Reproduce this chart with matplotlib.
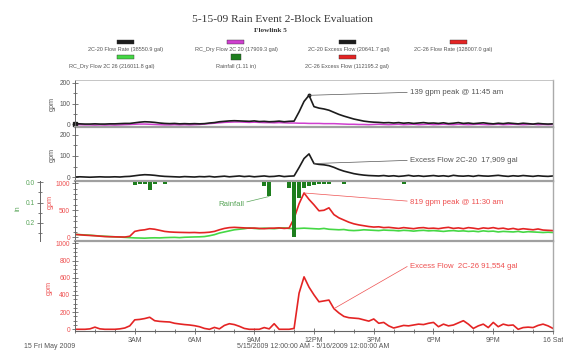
import numpy as np
import matplotlib.pyplot as plt
from matplotlib.patches import Rectangle
from matplotlib.ticker import MultipleLocator

plt.rcParams['font.family'] = ['Liberation Sans', 'DejaVu Sans']

# CONFIG ===============================================================================================================

W, H, DPI = 563, 352, 100

BLACK = "#1c1c1c"
MAGENTA = "#cf3fcf"
RED = "#e42424"
LIME = "#45d845"
RAIN_GREEN = "#1e7e1e"
RED_TEXT = "#ee5050"
GREEN_TEXT = "#5aa65a"
GRAY_TEXT = "#555555"

# DATA =================================================================================================================

# 15-minute samples, 5/15/2009 00:00 -> 5/16/2009 00:00 (hours)
HOURS = np.arange(97) * 0.25

FLOW_2C20 = [
    4, 3, 2, 2, 3, 2, 2, 3,
    3, 4, 5, 5, 8, 11, 13, 12,
    10, 7, 5, 4, 5, 3, 4, 3,
    4, 3, 4, 7, 9, 13, 15, 17,
    18, 17, 16, 15, 17, 14, 15, 13,
    14, 16, 13, 15, 16, 60, 110, 139,
    85, 78, 74, 68, 58, 48, 40, 33,
    26, 21, 16, 13, 11, 10, 8, 9,
    7, 9, 6, 8, 5, 7, 9, 6,
    7, 5, 8, 4, 6, 9, 5, 7,
    4, 6, 8, 5, 3, 6, 4, 7,
    5, 3, 6, 4, 2, 5, 3, 2,
    3,
]

DRY_2C20 = [
    0, -1, -2, -2, -3, -2, -3, -2,
    -3, -2, -1, 0, 1, 2, 2, 1,
    0, -1, -2, -2, -1, -2, -1, -2,
    -1, 0, 2, 4, 6, 8, 10, 11,
    12, 12, 11, 10, 11, 10, 9, 9,
    8, 9, 8, 7, 7, 6, 6, 5,
    5, 5, 4, 4, 4, 3, 2, 1,
    1, 0, 0, -1, 0, 1, 0, -1,
    0, 1, -1, 0, 1, -1, 0, 1,
    -1, 0, 1, 0, -1, 1, 0, -1,
    0, 1, 0, -1, 0, 1, -1, 0,
    1, 0, -1, 0, 1, -1, 0, -1,
    0,
]

EXCESS_2C20 = [
    0, 1, 0, -1, 0, 1, 0, 0,
    1, 0, 2, 3, 6, 9, 11, 10,
    8, 5, 3, 2, 1, 0, 2, 1,
    0, 2, 1, 3, 0, 2, 4, 1,
    3, 5, 2, 4, 1, 3, 5, 2,
    3, 6, 2, 4, 5, 45, 88, 110,
    64, 60, 58, 54, 46, 36, 28, 22,
    16, 12, 9, 7, 6, 5, 7, 4,
    6, 3, 5, 8, 4, 6, 3, 5,
    7, 4, 6, 3, 8, 5, 4, 6,
    3, 7, 5, 4, 6, 8, 5, 3,
    6, 4, 7, 5, 3, 6, 4, 3,
    5,
]

FLOW_2C26 = [
    55, 48, 40, 35, 30, 22, 15, 12,
    10, 8, 6, 20, 110, 130, 140, 160,
    150, 130, 110, 100, 95, 92, 90, 88,
    90, 85, 88, 95, 110, 140, 165, 180,
    185, 180, 175, 170, 172, 165, 160, 168,
    170, 175, 165, 172, 350, 620, 819, 700,
    600, 490, 500, 545, 420, 360, 320, 280,
    250, 230, 215, 200, 190, 195, 180, 185,
    175, 165, 180, 170, 160, 175, 180, 165,
    170, 160, 175, 185, 165, 175, 160, 180,
    170, 155, 175, 165, 180, 160, 170, 150,
    165, 145, 160, 150, 140, 155, 135, 130,
    125,
]

DRY_2C26 = [
    55, 50, 45, 40, 32, 25, 20, 15,
    10, 5, 0, -5, -10, -12, -15, -10,
    -8, -10, -5, -2, 0, -5, 2, 5,
    8, 10, 15, 30, 50, 80, 100, 120,
    140, 150, 160, 175, 165, 160, 170, 165,
    160, 170, 175, 165, 160, 165, 170, 165,
    160, 155, 165, 150, 145, 140, 145, 130,
    125, 130, 140, 135, 130, 125, 135, 130,
    128, 120, 130, 125, 115, 125, 130, 120,
    125, 118, 110, 120, 125, 115, 120, 110,
    115, 105, 120, 110, 115, 100, 110, 105,
    100, 110, 95, 105, 100, 95, 90, 95,
    90,
]

EXCESS_2C26 = [
    0, 0, 0, 5, 25, 5, 0, 0,
    0, 5, 15, 40, 110, 115, 125, 140,
    100, 92, 88, 85, 70, 62, 55, 50,
    42, 30, 10, 0, 22, 5, 45, 65,
    55, 35, 10, 0, 0, 0, 20, 5,
    65, 0, 0, 0, 10, 420, 610, 490,
    400, 320, 330, 340, 240, 190, 150, 135,
    130, 125, 110, 95, 120, 70, 80, 40,
    15, 30, 45, 40, 50, 60, 55, 70,
    80, 30, 60, 40, 50, 75, 100, 60,
    10, 40, 60, 20, 80, 30, 60, 45,
    50, 0, 20, 25, 20, 45, 60, 40,
    10,
]

RAIN_HOURS = [3.0, 3.25, 3.5, 3.75, 4.0, 4.5, 9.5, 9.75, 10.75, 11.0, 11.25, 11.5, 11.75, 12.0,
              12.25, 12.5, 12.75, 13.5, 16.5]
RAIN_INCHES = [0.015, 0.008, 0.008, 0.04, 0.008, 0.008, 0.02, 0.07, 0.03, 0.27, 0.08, 0.03, 0.02, 0.012,
               0.008, 0.008, 0.008, 0.008, 0.008]

X_TICKS = [3, 6, 9, 12, 15, 18, 21, 24]
X_TICK_LABELS = ["3AM", "6AM", "9AM", "12PM", "3PM", "6PM", "9PM", "16 Sat"]

LEGEND_LABELS = [
    "2C-20 Flow Rate (38550.9 gal)", "RC_Dry Flow 2C 20 (17909.3 gal)",
    "2C-20 Excess Flow (20641.7 gal)", "2C-26 Flow Rate (328007.0 gal)",
    "RC_Dry Flow 2C 26 (216011.8 gal)", "Rainfall (1.11 in)", "2C-26 Excess Flow (112195.2 gal)",
]
LEGEND_COLORS = [BLACK, MAGENTA, BLACK, RED, LIME, RAIN_GREEN, RED]


# HELPERS ==============================================================================================================

def px_rect(left, top, right, bottom):
    return [left / W, 1 - bottom / H, (right - left) / W, (bottom - top) / H]


def fx(x):
    return x / W


def fy(y):
    return 1 - y / H


def style_panel(ax, ylim, major, minor, label_color, separator=True):
    ax.set_xlim(0, 24)
    ax.set_ylim(*ylim)
    ax.yaxis.set_major_locator(MultipleLocator(major))
    ax.yaxis.set_minor_locator(MultipleLocator(minor))
    ax.tick_params(axis="y", which="both", direction="inout", color="#666666", labelcolor=label_color,
                   labelsize=4.8, pad=1.5, width=0.6)
    ax.tick_params(axis="y", which="major", length=4)
    ax.tick_params(axis="y", which="minor", length=2.4)
    ax.tick_params(axis="x", which="both", bottom=False, labelbottom=False)
    ax.spines["left"].set_color("#666666")
    ax.spines["left"].set_linewidth(0.7)
    ax.spines["right"].set_color("#aaaaaa")
    ax.spines["right"].set_linewidth(1.0)
    ax.spines["top"].set_visible(False)
    if separator:
        ax.spines["bottom"].set_color("#a0a0a0")
        ax.spines["bottom"].set_linewidth(1.6)
    ax.patch.set_alpha(0)


def annotate(ax, text, xy, text_px, color, ha="left", relpos=(0, 0.6)):
    ax.annotate(text, xy=xy, xycoords="data", xytext=(fx(text_px[0]), fy(text_px[1])),
                textcoords="figure fraction", ha=ha, va="center", fontsize=5.6, color=color,
                arrowprops=dict(arrowstyle="-", lw=0.5, color=color, relpos=relpos, shrinkA=0, shrinkB=0),
                annotation_clip=False)


# FIGURE ===============================================================================================================

fig = plt.figure(figsize=(W / DPI, H / DPI), dpi=DPI)

fig.text(fx(282), fy(20), "5-15-09 Rain Event 2-Block Evaluation", family="Liberation Serif",
         fontsize=8.2, color="#333333", ha="center", va="center")
fig.text(fx(270), fy(30), "Flowlink 5", family="Liberation Serif", fontsize=5.2, fontweight="bold",
         color="#333333", ha="center", va="center")

# legend, drawn by hand like the source software
legend_slots = [(125, 41.5, 126, 49.5), (236, 41.5, 236, 49.5), (347, 41.5, 349, 49.5), (458, 41.5, 453, 49.5),
                (125, 57.0, 112, 66.5), (236, 57.0, 236, 66.5), (347, 57.0, 347, 66.5)]
for label, color, (sx, sy, tx, ty) in zip(LEGEND_LABELS, LEGEND_COLORS, legend_slots):
    sw, sh = (10, 6) if color == RAIN_GREEN else (17, 4)
    fig.patches.append(Rectangle((fx(sx - sw / 2), fy(sy + sh / 2)), sw / W, sh / H, transform=fig.transFigure,
                                 facecolor=color, edgecolor="#333333", linewidth=0.3))
    fig.text(fx(tx), fy(ty), label, fontsize=4.0, color=GRAY_TEXT, ha="center", va="center")

# panel 1: 2C-20 flow rate and dry flow
ax1 = fig.add_axes(px_rect(75, 80, 553, 127))
ax1.plot(HOURS, DRY_2C20, color=MAGENTA, lw=1.1)
ax1.plot(HOURS, FLOW_2C20, color=BLACK, lw=1.2)
ax1.plot(HOURS[0], FLOW_2C20[0], "s", ms=3.5, color=BLACK, clip_on=False)
peak1 = int(np.argmax(FLOW_2C20))
ax1.plot(HOURS[peak1], FLOW_2C20[peak1], "o", ms=1.8, color=BLACK)
style_panel(ax1, (-12, 212), 100, 50, GRAY_TEXT)
ax1.spines["top"].set_visible(True)
ax1.spines["top"].set_color("#bbbbbb")
ax1.spines["top"].set_linewidth(0.6)
annotate(ax1, "139 gpm peak @ 11:45 am", (HOURS[peak1], FLOW_2C20[peak1]), (410, 93), GRAY_TEXT)

# panel 2: 2C-20 excess flow
ax2 = fig.add_axes(px_rect(75, 127, 553, 181))
ax2.plot(HOURS, EXCESS_2C20, color=BLACK, lw=1.2)
style_panel(ax2, (-19, 238), 100, 50, GRAY_TEXT)
annotate(ax2, "Excess Flow 2C-20  17,909 gal", (HOURS[48], EXCESS_2C20[48]), (410, 161), GRAY_TEXT)

# panel 3: 2C-26 flow rate, dry flow and rainfall
ax3 = fig.add_axes(px_rect(75, 181, 553, 241))
ax3.plot(HOURS, DRY_2C26, color=LIME, lw=1.2)
ax3.plot(HOURS, FLOW_2C26, color=RED, lw=1.2)
style_panel(ax3, (-67, 1040), 500, 100, RED_TEXT)
peak3 = int(np.argmax(FLOW_2C26))
annotate(ax3, "819 gpm peak @ 11:30 am", (HOURS[peak3], FLOW_2C26[peak3]), (410, 202), RED_TEXT)

rain_ax = ax3.twinx()
rain_ax.bar(RAIN_HOURS, RAIN_INCHES, width=0.2, color=RAIN_GREEN, align="center")
rain_ax.set_xlim(0, 24)
rain_ax.set_ylim(0.29, -0.0064)
rain_ax.yaxis.tick_left()
rain_ax.yaxis.set_label_position("left")
rain_ax.spines["left"].set_position(("axes", -35 / 478))
rain_ax.spines["left"].set_visible(True)
rain_ax.spines["left"].set_color("#666666")
rain_ax.spines["left"].set_linewidth(0.7)
for side in ("right", "top", "bottom"):
    rain_ax.spines[side].set_visible(False)
rain_ax.yaxis.set_major_locator(MultipleLocator(0.1))
rain_ax.yaxis.set_minor_locator(MultipleLocator(0.05))
rain_ax.tick_params(axis="y", which="both", direction="inout", color="#666666", labelcolor=GREEN_TEXT,
                    labelsize=4.8, pad=1.5, width=0.6)
rain_ax.tick_params(axis="y", which="major", length=4)
rain_ax.tick_params(axis="y", which="minor", length=2.4)
rain_idx = RAIN_HOURS.index(9.75)
annotate(rain_ax, "Rainfall", (RAIN_HOURS[rain_idx], RAIN_INCHES[rain_idx]), (244, 204), GREEN_TEXT,
         ha="right", relpos=(1, 0.7))

# panel 4: 2C-26 excess flow
ax4 = fig.add_axes(px_rect(75, 241, 553, 330.5))
ax4.plot(HOURS, EXCESS_2C26, color=RED, lw=1.2)
style_panel(ax4, (-14, 1027), 200, 50, RED_TEXT, separator=False)
ax4.spines["bottom"].set_color("#666666")
ax4.spines["bottom"].set_linewidth(0.8)
ax4.set_xticks(X_TICKS, labels=X_TICK_LABELS)
ax4.xaxis.set_minor_locator(MultipleLocator(1))
ax4.tick_params(axis="x", which="both", bottom=True, labelbottom=True, direction="inout", color="#666666",
                labelcolor=GRAY_TEXT, labelsize=5, pad=2, width=0.6)
ax4.tick_params(axis="x", which="major", length=5)
ax4.tick_params(axis="x", which="minor", length=2.5)
annotate(ax4, "Excess Flow  2C-26 91,554 gal", (HOURS[52], EXCESS_2C26[52]), (410, 267), RED_TEXT,
         relpos=(0, 0.8))

# axis titles
fig.text(fx(52), fy(104), "gpm", rotation=90, fontsize=5.2, color=GRAY_TEXT, ha="center", va="center")
fig.text(fx(52), fy(155), "gpm", rotation=90, fontsize=5.2, color=GRAY_TEXT, ha="center", va="center")
fig.text(fx(50), fy(202), "gpm", rotation=90, fontsize=5.2, color=RED_TEXT, ha="center", va="center")
fig.text(fx(18), fy(208), "in", rotation=90, fontsize=5.2, color=GREEN_TEXT, ha="center", va="center")
fig.text(fx(49), fy(288), "gpm", rotation=90, fontsize=5.2, color=RED_TEXT, ha="center", va="center")

fig.text(fx(50), fy(347), "15 Fri May 2009", fontsize=5, color=GRAY_TEXT, ha="center", va="center")
fig.text(fx(313), fy(347), "5/15/2009 12:00:00 AM - 5/16/2009 12:00:00 AM", fontsize=5, color=GRAY_TEXT,
         ha="center", va="center")

fig.savefig("out.png", dpi=DPI)
